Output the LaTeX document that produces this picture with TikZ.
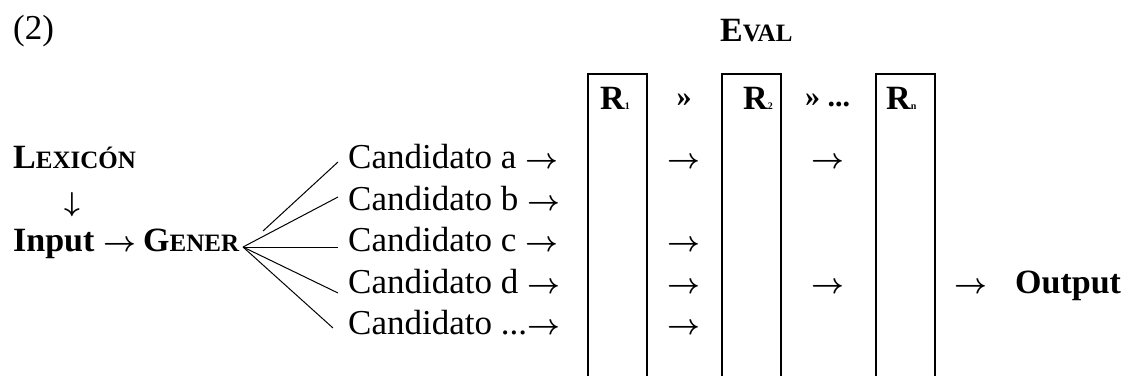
\documentclass[tikz,border=0pt]{standalone}
\usepackage{fontspec}
\setmainfont{Liberation Serif}
% small capitals built from full and reduced capitals
\newcommand\smallcapsword[2]{#1{\fontsize{25}{25}\selectfont #2}}
% arrow glyphs
\newcommand\rarr{\scalebox{1.15}{\boldmath$\rightarrow$}}
\newcommand\darr{\scalebox{1.1}{\boldmath$\downarrow$}}
\begin{document}
\begin{tikzpicture}[x=1pt, y=-1pt,
  txt/.style={inner sep=0pt, anchor=base west, font=\fontsize{35}{42}\selectfont},
  bld/.style={inner sep=0pt, anchor=base west, font=\fontsize{34}{42}\selectfont\bfseries},
  arr/.style={inner sep=0pt, anchor=base, font=\fontsize{35}{42}\selectfont},
  rulebox/.style={draw, line width=2pt, minimum width=59pt, minimum height=320pt,
                  anchor=north west, inner sep=0pt},
  fan/.style={line width=1pt}]
\useasboundingbox (0,0) rectangle (1124,375);

% example number and component titles
\node[txt] (num) at (13,39) {(2)};
\node[bld] (eval) at (720,41) {\smallcapsword{E}{VAL}};

% lexicon, input and generator
\node[bld] (lex) at (13,168) {\smallcapsword{L}{EXICÓN}};
\node[arr] (down) at (72,211) {\darr};
\node[bld] (input) at (13,251) {Input};
\node[arr] (inarr) at (120,251) {\rarr};
\node[bld] (gener) at (143,251) {\smallcapsword{G}{ENER}};

% candidate set
\node[txt] (ca) at (348,168) {Candidato a \rarr};
\node[txt] (cb) at (348,210) {Candidato b \rarr};
\node[txt] (cc) at (348,251) {Candidato c \rarr};
\node[txt] (cd) at (348,293) {Candidato d \rarr};
\node[txt] (ce) at (348,334) {Candidato ...\rarr};

% fan of candidates out of GENER
\coordinate (fanorigin) at (243,247);
\coordinate (fanstart) at (263,231);
\draw[fan] (fanstart) -- ([shift={(-10,-6)}]ca.base west);
\draw[fan] (fanorigin) -- ([shift={(-10,-13)}]cb.base west);
\draw[fan] (fanorigin) -- ([shift={(-10,-4)}]cc.base west);
\draw[fan] (fanorigin) -- ([shift={(-10,0)}]cd.base west);
\draw[fan] (fanorigin) -- ([shift={(-15,-6)}]ce.base west);

% ranked constraints
\node[rulebox] (r1) at (587,73) {};
\node[rulebox] (r2) at (721,73) {};
\node[rulebox] (rn) at (875,73) {};
\node[bld] (r1lab) at (600,109) {R{\fontsize{10}{10}\selectfont 1}};
\node[bld] (r2lab) at (743,109) {R{\fontsize{10}{10}\selectfont 2}};
\node[bld] (rnlab) at (886,109) {R{\fontsize{10}{10}\selectfont n}};
\node[arr, font=\fontsize{30}{30}\selectfont\bfseries] (rank1) at (684,106) {»};
\node[bld, font=\fontsize{30}{30}\selectfont\bfseries] (rank2) at (805,106) {» ...};

% candidates passing from one constraint to the next
\node[arr] (p1a) at (684,168) {\rarr};
\node[arr] (p1c) at (684,251) {\rarr};
\node[arr] (p1d) at (684,293) {\rarr};
\node[arr] (p1e) at (684,334) {\rarr};
\node[arr] (p2a) at (828,168) {\rarr};
\node[arr] (p2d) at (828,293) {\rarr};

% optimal output
\node[arr] (outarr) at (971,293) {\rarr};
\node[bld] (output) at (1015,293) {Output};
\end{tikzpicture}
\end{document}
